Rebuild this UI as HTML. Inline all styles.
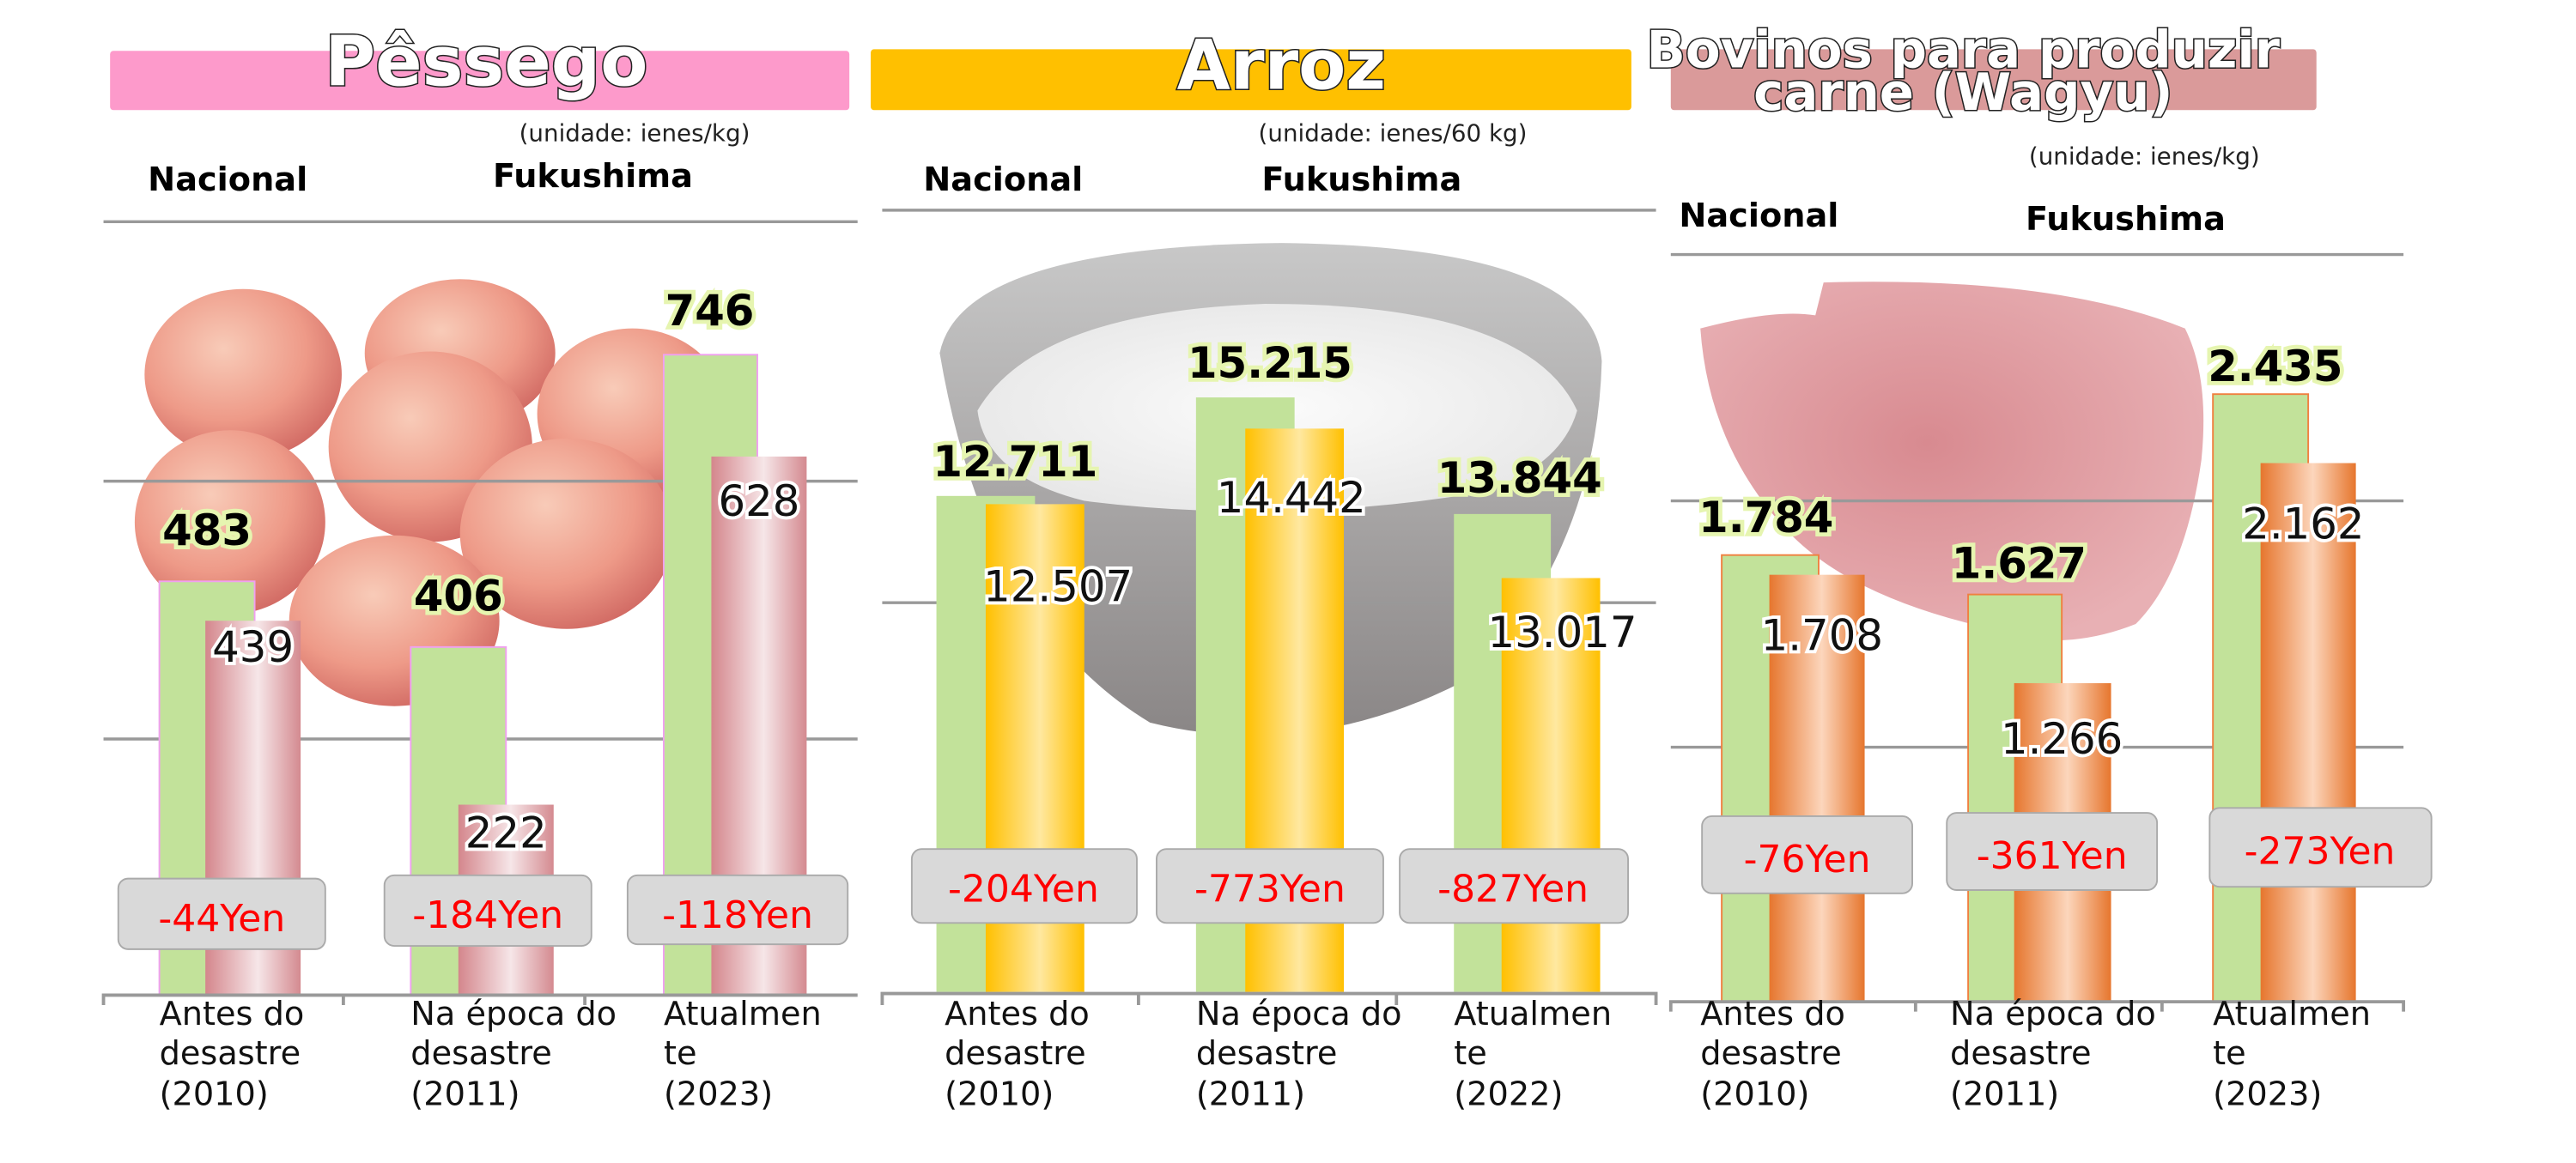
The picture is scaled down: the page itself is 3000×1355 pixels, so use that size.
<!DOCTYPE html>
<html><head><meta charset="utf-8"><style>
html,body{margin:0;padding:0;background:#fff;}
svg{display:block;}
text{font-family:"DejaVu Sans","Liberation Sans",sans-serif;}
.t{font-weight:bold;fill:#fff;stroke:#222;stroke-width:1.6;paint-order:stroke;}
.h{font-weight:bold;font-size:20px;fill:#000;}
.u{font-size:14.5px;fill:#222;}
.nv{font-weight:bold;font-size:26px;fill:#000;stroke:#e6f5b0;stroke-width:5;paint-order:stroke;}
.fv{font-size:26px;fill:#111;stroke:#fff;stroke-width:4;paint-order:stroke;}
.yen{font-size:23px;fill:#f00;}
.cat{font-size:20px;fill:#111;}
.box{fill:#d9d9d9;stroke:#aaa;stroke-width:1;}
.grid{stroke:#999;stroke-width:1.8;}
.g{fill:#c2e29a;}
</style></head><body>
<svg width="3000" height="1355" viewBox="0 0 1568 708.2" preserveAspectRatio="none" xmlns="http://www.w3.org/2000/svg">
<defs>
<linearGradient id="pk" x1="0" x2="1"><stop offset="0" stop-color="#d4868c"/><stop offset="0.55" stop-color="#f6e6e8"/><stop offset="1" stop-color="#d48a90"/></linearGradient>
<linearGradient id="yl" x1="0" x2="1"><stop offset="0" stop-color="#ffc000"/><stop offset="0.55" stop-color="#ffe8a0"/><stop offset="1" stop-color="#ffc000"/></linearGradient>
<linearGradient id="or" x1="0" x2="1"><stop offset="0" stop-color="#e6762e"/><stop offset="0.55" stop-color="#fcd6bc"/><stop offset="1" stop-color="#e6762e"/></linearGradient>
<radialGradient id="peach" cx="0.4" cy="0.35" r="0.7"><stop offset="0" stop-color="#f8cbb8"/><stop offset="0.6" stop-color="#ee9a88"/><stop offset="1" stop-color="#d06862"/></radialGradient>
<radialGradient id="rice" cx="0.5" cy="0.5" r="0.6"><stop offset="0" stop-color="#fbfbfb"/><stop offset="1" stop-color="#e6e6e6"/></radialGradient>
<linearGradient id="bowl" x1="0" x2="0" y1="0" y2="1"><stop offset="0" stop-color="#c8c8c8"/><stop offset="1" stop-color="#8a8686"/></linearGradient>
<radialGradient id="meat" cx="0.45" cy="0.45" r="0.6"><stop offset="0" stop-color="#d88a90"/><stop offset="1" stop-color="#e8b0b4"/></radialGradient>
</defs>

<!-- ============ PEACH ============ -->
<rect x="67" y="31" width="450" height="36" rx="2" fill="#fd9acb"/>
<text class="t" x="296" y="52" font-size="42" text-anchor="middle">Pêssego</text>
<text class="u" x="316" y="86">(unidade: ienes/kg)</text>
<text class="h" x="90" y="116">Nacional</text>
<text class="h" x="300" y="114">Fukushima</text>
<line class="grid" x1="63" y1="135" x2="522" y2="135"/>
<g>
<ellipse cx="148" cy="228" rx="60" ry="52" fill="url(#peach)"/>
<ellipse cx="280" cy="215" rx="58" ry="45" fill="url(#peach)"/>
<ellipse cx="385" cy="252" rx="58" ry="52" fill="url(#peach)"/>
<ellipse cx="140" cy="318" rx="58" ry="56" fill="url(#peach)"/>
<ellipse cx="262" cy="272" rx="62" ry="58" fill="url(#peach)"/>
<ellipse cx="345" cy="325" rx="65" ry="58" fill="url(#peach)"/>
<ellipse cx="240" cy="378" rx="64" ry="52" fill="url(#peach)"/>
</g>
<line class="grid" x1="63" y1="293" x2="522" y2="293"/>
<line class="grid" x1="63" y1="450" x2="522" y2="450"/>
<rect class="g" x="97" y="354" width="58" height="252" stroke="#f0a0f0" stroke-width="1"/>
<rect x="125" y="378" width="58" height="228" fill="url(#pk)"/>
<rect class="g" x="250" y="394" width="58" height="212" stroke="#f0a0f0" stroke-width="1"/>
<rect x="279" y="490" width="58" height="116" fill="url(#pk)"/>
<rect class="g" x="404" y="216" width="57" height="390" stroke="#f0a0f0" stroke-width="1"/>
<rect x="433" y="278" width="58" height="328" fill="url(#pk)"/>
<text class="nv" x="126" y="332" text-anchor="middle">483</text>
<text class="fv" x="154" y="403" text-anchor="middle">439</text>
<text class="nv" x="279" y="372" text-anchor="middle">406</text>
<text class="fv" x="308" y="516" text-anchor="middle">222</text>
<text class="nv" x="432" y="198" text-anchor="middle">746</text>
<text class="fv" x="462" y="314" text-anchor="middle">628</text>
<rect class="box" x="72" y="535" width="126" height="43" rx="6"/>
<text class="yen" x="135" y="567" text-anchor="middle">-44Yen</text>
<rect class="box" x="234" y="533" width="126" height="43" rx="6"/>
<text class="yen" x="297" y="565" text-anchor="middle">-184Yen</text>
<rect class="box" x="382" y="533" width="134" height="42" rx="6"/>
<text class="yen" x="449" y="565" text-anchor="middle">-118Yen</text>
<path d="M63 612 V606 H522 M209 606 V612 M356 606 V612" stroke="#999" stroke-width="2" fill="none"/>
<g class="cat"><text x="97" y="624">Antes do</text><text x="97" y="648">desastre</text><text x="97" y="673">(2010)</text>
<text x="250" y="624">Na época do</text><text x="250" y="648">desastre</text><text x="250" y="673">(2011)</text>
<text x="404" y="624">Atualmen</text><text x="404" y="648">te</text><text x="404" y="673">(2023)</text></g>

<!-- ============ RICE ============ -->
<rect x="530" y="30" width="463" height="37" rx="2" fill="#ffc000"/>
<text class="t" x="780" y="54" font-size="42" text-anchor="middle">Arroz</text>
<text class="u" x="766" y="86">(unidade: ienes/60 kg)</text>
<text class="h" x="562" y="116">Nacional</text>
<text class="h" x="768" y="116">Fukushima</text>
<line class="grid" x1="537" y1="128" x2="1008" y2="128"/>
<path d="M572 215 Q585 150 780 148 Q970 150 975 220 Q972 330 900 410 Q800 465 700 440 Q600 380 572 215 Z" fill="url(#bowl)"/>
<path d="M595 250 Q630 190 770 185 Q930 185 960 250 Q950 285 900 300 Q780 320 660 305 Q600 290 595 250 Z" fill="url(#rice)"/>
<line class="grid" x1="537" y1="367" x2="1008" y2="367"/>
<rect class="g" x="570" y="302" width="60" height="302"/>
<rect x="600" y="307" width="60" height="297" fill="url(#yl)"/>
<rect class="g" x="728" y="242" width="60" height="362"/>
<rect x="758" y="261" width="60" height="343" fill="url(#yl)"/>
<rect class="g" x="885" y="313" width="59" height="291"/>
<rect x="914" y="352" width="60" height="252" fill="url(#yl)"/>
<text class="nv" x="618" y="290" text-anchor="middle">12.711</text>
<text class="fv" x="644" y="366" text-anchor="middle">12.507</text>
<text class="nv" x="773" y="230" text-anchor="middle">15.215</text>
<text class="fv" x="786" y="312" text-anchor="middle">14.442</text>
<text class="nv" x="925" y="300" text-anchor="middle">13.844</text>
<text class="fv" x="951" y="394" text-anchor="middle">13.017</text>
<rect class="box" x="555" y="517" width="137" height="45" rx="6"/>
<text class="yen" x="623" y="549" text-anchor="middle">-204Yen</text>
<rect class="box" x="704" y="517" width="138" height="45" rx="6"/>
<text class="yen" x="773" y="549" text-anchor="middle">-773Yen</text>
<rect class="box" x="852" y="517" width="139" height="45" rx="6"/>
<text class="yen" x="921" y="549" text-anchor="middle">-827Yen</text>
<path d="M537 612 V605 H1008 V612 M693 605 V612 M850 605 V612" stroke="#999" stroke-width="2" fill="none"/>
<g class="cat"><text x="575" y="624">Antes do</text><text x="575" y="648">desastre</text><text x="575" y="673">(2010)</text>
<text x="728" y="624">Na época do</text><text x="728" y="648">desastre</text><text x="728" y="673">(2011)</text>
<text x="885" y="624">Atualmen</text><text x="885" y="648">te</text><text x="885" y="673">(2022)</text></g>

<!-- ============ BEEF ============ -->
<rect x="1017" y="30" width="393" height="37" rx="2" fill="#da9a9a"/>
<text class="t" x="1195" y="41" font-size="31" text-anchor="middle">Bovinos para produzir</text>
<text class="t" x="1195" y="67" font-size="31" text-anchor="middle">carne (Wagyu)</text>
<text class="u" x="1235" y="100">(unidade: ienes/kg)</text>
<text class="h" x="1022" y="138">Nacional</text>
<text class="h" x="1233" y="140">Fukushima</text>
<line class="grid" x1="1017" y1="155" x2="1463" y2="155"/>
<path d="M1035 200 Q1080 188 1105 192 L1110 172 Q1250 168 1330 200 Q1345 230 1340 280 Q1330 350 1300 380 Q1250 400 1200 380 Q1120 360 1085 320 Q1040 270 1035 200 Z" fill="url(#meat)"/>
<line class="grid" x1="1017" y1="305" x2="1463" y2="305"/>
<line class="grid" x1="1017" y1="455" x2="1463" y2="455"/>
<rect class="g" x="1048" y="338" width="59" height="272" stroke="#f08040" stroke-width="1"/>
<rect x="1077" y="350" width="58" height="260" fill="url(#or)"/>
<rect class="g" x="1198" y="362" width="57" height="248" stroke="#f08040" stroke-width="1"/>
<rect x="1226" y="416" width="59" height="194" fill="url(#or)"/>
<rect class="g" x="1347" y="240" width="58" height="370" stroke="#f08040" stroke-width="1"/>
<rect x="1376" y="282" width="58" height="328" fill="url(#or)"/>
<text class="nv" x="1075" y="324" text-anchor="middle">1.784</text>
<text class="fv" x="1109" y="396" text-anchor="middle">1.708</text>
<text class="nv" x="1229" y="352" text-anchor="middle">1.627</text>
<text class="fv" x="1255" y="459" text-anchor="middle">1.266</text>
<text class="nv" x="1385" y="232" text-anchor="middle">2.435</text>
<text class="fv" x="1402" y="328" text-anchor="middle">2.162</text>
<rect class="box" x="1036" y="497" width="128" height="47" rx="6"/>
<text class="yen" x="1100" y="531" text-anchor="middle">-76Yen</text>
<rect class="box" x="1185" y="495" width="128" height="47" rx="6"/>
<text class="yen" x="1249" y="529" text-anchor="middle">-361Yen</text>
<rect class="box" x="1345" y="492" width="135" height="48" rx="6"/>
<text class="yen" x="1412" y="526" text-anchor="middle">-273Yen</text>
<path d="M1017 616 V610 H1463 V616 M1166 610 V616 M1316 610 V616" stroke="#999" stroke-width="2" fill="none"/>
<g class="cat"><text x="1035" y="624">Antes do</text><text x="1035" y="648">desastre</text><text x="1035" y="673">(2010)</text>
<text x="1187" y="624">Na época do</text><text x="1187" y="648">desastre</text><text x="1187" y="673">(2011)</text>
<text x="1347" y="624">Atualmen</text><text x="1347" y="648">te</text><text x="1347" y="673">(2023)</text></g>
</svg>
</body></html>
